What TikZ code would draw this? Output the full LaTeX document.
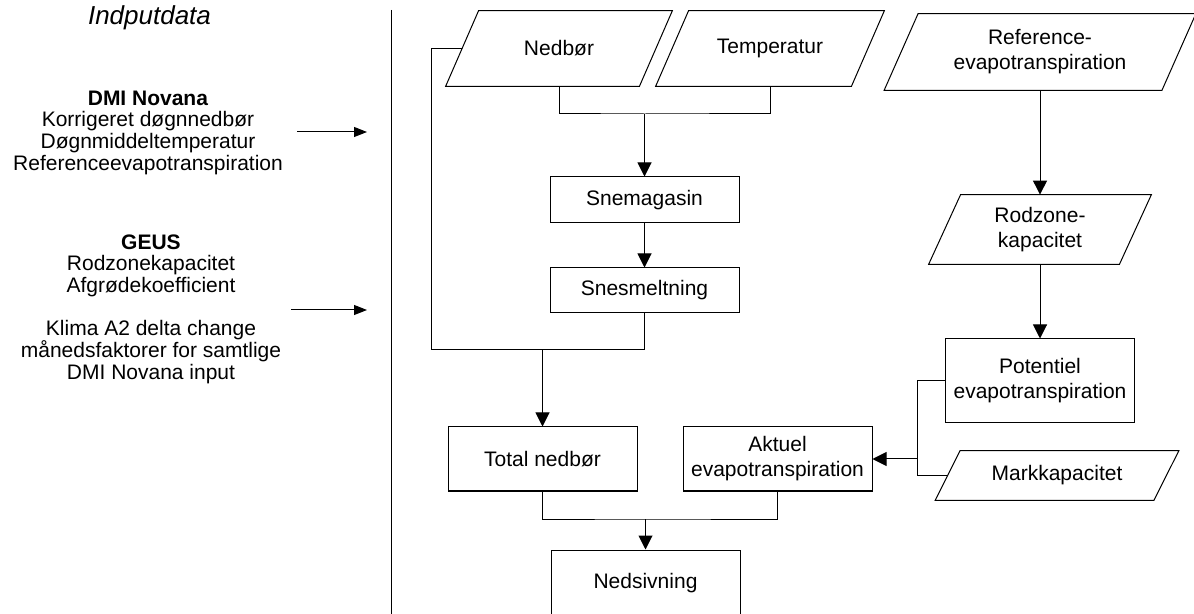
\documentclass[tikz,border=0pt]{standalone}
\usepackage{fontspec}
\setmainfont{Liberation Sans}
\usetikzlibrary{arrows.meta}
\newcommand\drawpara[2]{\draw[conn] ([xshift=#2]#1.north west) -- ([xshift=#2]#1.north east) -- ([xshift=-#2]#1.south east) -- ([xshift=-#2]#1.south west) -- cycle;}
\begin{document}
\begin{tikzpicture}[x=0.5pt,y=-0.5pt,
  boxfont/.style={font=\fontsize{10.5}{12.5}\selectfont},
  conn/.style={line width=0.5pt, draw=black},
  procbox/.style={draw, line width=0.5pt, boxfont, align=center, minimum width=94.5pt, inner sep=1pt},
  databox/.style={boxfont, align=center, inner sep=1pt},
  arr/.style={conn, -{Triangle[length=7pt,width=7pt]}},
  inarr/.style={conn, -{Triangle[length=6.5pt,width=5pt]}},
  sidetext/.style={font=\fontsize{10.5}{10.85}\selectfont, align=center, inner sep=0pt}
]
\useasboundingbox (0,0) rectangle (1194,614);

% left column
\node[font=\fontsize{13}{15}\selectfont\itshape, anchor=base, inner sep=0pt] (title) at (149.5,25) {Indputdata};
\node[sidetext] (dmi) at (148,132.7) {\textbf{DMI Novana}\\Korrigeret døgnnedbør\\Døgnmiddeltemperatur\\Referenceevapotranspiration};
\node[sidetext] (geus) at (151,309) {\textbf{GEUS}\\Rodzonekapacitet\\Afgrødekoefficient\\[10.85pt]Klima A2 delta change\\månedsfaktorer for samtlige\\DMI Novana input};
\coordinate (a1s) at (297,132);
\coordinate (a1e) at (367,132);
\coordinate (a2s) at (291,310);
\coordinate (a2e) at (367,310);
\draw[inarr] (a1s) -- (a1e);
\draw[inarr] (a2s) -- (a2e);

% divider
\coordinate (d1) at (391,10);
\coordinate (d2) at (391,614);
\draw[conn] (d1) -- (d2);

% nodes
\node[databox, minimum width=96.5pt, minimum height=37.5pt] (ned) at (559,48.5) {Nedbør};
\node[databox, minimum width=97.5pt, minimum height=37.5pt] (temp) at (770,48.5) {Temperatur};
\node[databox, minimum width=138.5pt, minimum height=38pt] (ref) at (1040,52) {Reference-\\evapotranspiration};
\node[procbox, minimum height=23pt] (snemag) at (644.5,200) {Snemagasin};
\node[procbox, minimum height=22.5pt] (snesm) at (644.5,290.5) {Snesmeltning};
\node[databox, minimum width=95pt, minimum height=34.5pt] (rodz) at (1040,229.5) {Rodzone-\\kapacitet};
\node[procbox, minimum height=42pt] (pot) at (1040,381) {Potentiel\\evapotranspiration};
\node[databox, minimum width=109pt, minimum height=24.5pt] (mark) at (1057,475.5) {Markkapacitet};
\node[procbox, minimum height=32pt] (total) at (542.5,459) {Total nedbør};
\node[procbox, minimum height=32pt] (akt) at (777.5,459) {Aktuel\\evapotranspiration};
\node[procbox, minimum height=33pt] (neds) at (645.5,583) {Nedsivning};

\drawpara{ned}{8.25pt}
\drawpara{temp}{8.25pt}
\drawpara{ref}{8.5pt}
\drawpara{rodz}{8pt}
\drawpara{mark}{6.25pt}

% connectors
\coordinate (j1) at (644.5,114);
\draw[conn] (ned.south) |- (j1) -| (temp.south);
\draw[arr] (j1) -- (snemag.north);
\draw[arr] (snemag) -- (snesm);

\coordinate (c1) at (431,48.5);
\coordinate (j2) at (542.5,350);
\draw[conn] (ned.west) -- (c1) |- (j2);
\draw[conn] (snesm.south) |- (j2);
\draw[arr] (j2) -- (total.north);

\coordinate (j3) at (645.5,519);
\draw[conn] (total.south) |- (j3) -| (akt.south);
\draw[arr] (j3) -- (neds.north);

\draw[arr] (ref.south) -- (rodz.north);
\draw[arr] (rodz.south) -- (pot.north);

\coordinate (c2) at (917,381);
\coordinate (j4) at (917,459);
\draw[conn] (pot.west) -- (c2) -- (j4);
\draw[conn] (mark.west) -| (j4);
\draw[arr] (j4) -- (akt.east);
\end{tikzpicture}
\end{document}
